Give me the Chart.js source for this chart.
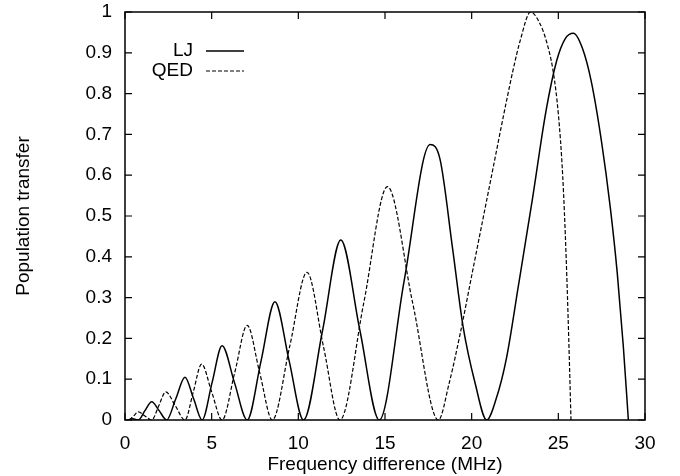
<!DOCTYPE html>
<html>
<head>
<meta charset="utf-8">
<script src="https://cdn.jsdelivr.net/npm/chart.js@4/dist/chart.umd.min.js"></script>
<style>
  html, body { margin: 0; padding: 0; background: #fff; }
  #wrap { width: 680px; height: 476px; }
</style>
</head>
<body>
<div id="wrap"><canvas id="myChart" width="680" height="476"></canvas></div>
<script>
// data
const ljX = [0.2, 0.45, 0.77, 1.15, 1.54, 1.97, 2.4, 2.93, 3.46, 3.96, 4.45, 5.02, 5.6, 6.32, 7.05, 7.85, 8.65, 9.47, 10.3, 11.4, 12.45, 13.55, 14.67, 16.1, 17.6, 18.17, 18.9, 19.5, 20.2, 20.87, 21.4, 22.0, 22.7, 23.5, 24.3, 24.9, 25.4, 25.87, 26.4, 26.9, 27.5, 28.0, 28.4, 28.75, 29.04];
const ljY = [0, 0.003, 0, 0.023, 0.045, 0.023, 0, 0.052, 0.105, 0.052, 0, 0.091, 0.182, 0.091, 0, 0.145, 0.29, 0.145, 0, 0.22, 0.441, 0.22, 0, 0.34, 0.675, 0.64, 0.42, 0.23, 0.09, 0, 0.05, 0.15, 0.33, 0.54, 0.76, 0.88, 0.935, 0.948, 0.91, 0.83, 0.68, 0.52, 0.36, 0.18, 0];

const qedX = [0.25, 0.5, 0.77, 1.15, 1.54, 1.95, 2.35, 2.9, 3.46, 3.94, 4.42, 5.0, 5.6, 6.33, 7.05, 7.77, 8.5, 9.5, 10.5, 11.45, 12.4, 13.77, 15.14, 16.6, 18.08, 18.7, 19.33, 20.1, 21.06, 22.0, 22.4, 22.8, 23.4, 23.9, 24.3, 24.7, 25.0, 25.25, 25.45, 25.6, 25.73];
const qedY = [0, 0.01, 0.02, 0.01, 0, 0.035, 0.069, 0.035, 0, 0.069, 0.137, 0.069, 0, 0.116, 0.232, 0.116, 0, 0.18, 0.362, 0.18, 0, 0.286, 0.572, 0.286, 0, 0.09, 0.21, 0.375, 0.58, 0.78, 0.86, 0.93, 1.0, 0.975, 0.93, 0.855, 0.75, 0.6, 0.4, 0.2, 0];

const seriesNames = ["LJ", "QED"];
const xTicks = [0, 5, 10, 15, 20, 25, 30];
const yTicks = [0, 0.1, 0.2, 0.3, 0.4, 0.5, 0.6, 0.7, 0.8, 0.9, 1];

const FONT = "'Liberation Sans', Arial, Helvetica, sans-serif";

function pts(xs, ys) {
  return xs.map((x, i) => ({ x: x, y: ys[i] }));
}

// gnuplot style frame with inward ticks on all sides + key
const gnuFrame = {
  id: "gnuFrame",
  afterDraw(chart) {
    const { ctx, chartArea: { top, bottom, left, right }, scales: { x, y } } = chart;
    const tl = 7;
    ctx.save();
    ctx.strokeStyle = "#000";
    ctx.lineWidth = 1.5;
    ctx.strokeRect(left, top, right - left, bottom - top);
    ctx.beginPath();
    xTicks.forEach(v => {
      const px = x.getPixelForValue(v);
      ctx.moveTo(px, bottom); ctx.lineTo(px, bottom - tl);
      ctx.moveTo(px, top); ctx.lineTo(px, top + tl);
    });
    yTicks.forEach(v => {
      const py = y.getPixelForValue(v);
      ctx.moveTo(left, py); ctx.lineTo(left + tl, py);
      ctx.moveTo(right, py); ctx.lineTo(right - tl, py);
    });
    ctx.lineWidth = 1.2;
    ctx.stroke();

    // key
    ctx.font = "19px " + FONT;
    ctx.fillStyle = "#000";
    ctx.textAlign = "right";
    ctx.textBaseline = "middle";
    chart.data.datasets.forEach((ds, i) => {
      const ky = 51 + i * 20;
      ctx.fillText(ds.label, 193, ky);
      ctx.beginPath();
      ctx.setLineDash(ds.borderDash || []);
      ctx.lineWidth = ds.borderWidth;
      ctx.moveTo(206, ky);
      ctx.lineTo(244, ky);
      ctx.stroke();
    });
    ctx.restore();
  },
};

const data = {
  datasets: [
    {
      label: seriesNames[0],
      data: pts(ljX, ljY),
      borderColor: "#000",
      borderWidth: 1.5,
    },
    {
      label: seriesNames[1],
      data: pts(qedX, qedY),
      borderColor: "#000",
      borderWidth: 1.2,
      borderDash: [4, 2],
    },
  ],
};

const config = {
  type: "scatter",
  data: data,
  options: {
    responsive: false,
    animation: false,
    showLine: true,
    layout: { padding: { top: 12, right: 35, left: 0, bottom: 0 } },
    elements: {
      point: { radius: 0 },
      line: { cubicInterpolationMode: "monotone", fill: false },
    },
    plugins: {
      legend: { display: false },
      tooltip: { enabled: false },
    },
    scales: {
      x: {
        type: "linear",
        min: 0,
        max: 30,
        afterBuildTicks(scale) { scale.ticks = xTicks.map(v => ({ value: v })); },
        afterFit(scale) { scale.height = 56; scale.paddingLeft = 0; scale.paddingRight = 0; },
        grid: { display: false, drawTicks: false },
        border: { display: false },
        ticks: { color: "#000", font: { family: FONT, size: 19 }, padding: 12, maxRotation: 0 },
        title: {
          display: true,
          text: "Frequency difference (MHz)",
          color: "#000",
          font: { family: FONT, size: 19 },
          padding: { top: 0, bottom: 0 },
        },
      },
      y: {
        type: "linear",
        min: 0,
        max: 1,
        afterBuildTicks(scale) { scale.ticks = yTicks.map(v => ({ value: v })); },
        afterFit(scale) { scale.width = 125; scale.paddingTop = 0; scale.paddingBottom = 0; },
        grid: { display: false, drawTicks: false },
        border: { display: false },
        ticks: {
          color: "#000",
          font: { family: FONT, size: 19 },
          padding: 13,
          callback: v => String(Math.round(v * 10) / 10),
        },
        title: {
          display: true,
          text: "Population transfer",
          color: "#000",
          font: { family: FONT, size: 19 },
          padding: { top: 12, bottom: 0 },
        },
      },
    },
  },
  plugins: [gnuFrame],
};

const myChart = new Chart(document.getElementById("myChart"), config);
</script>
</body>
</html>
